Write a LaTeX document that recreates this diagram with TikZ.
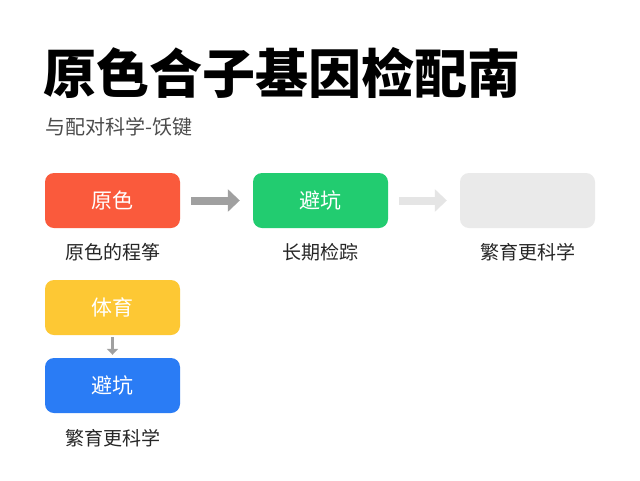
\documentclass[tikz,border=0pt]{standalone}
\usepackage{fontspec}
\newfontfamily\cjk{Noto Sans CJK SC}
\usepackage{tikz}
\usetikzlibrary{positioning,arrows.meta}
\definecolor{cred}{HTML}{FA5A3C}
\definecolor{cgreen}{HTML}{22CC70}
\definecolor{cgray}{HTML}{EAEAEA}
\definecolor{cyellow}{HTML}{FDC834}
\definecolor{cblue}{HTML}{2A7CF5}
\definecolor{carrow}{HTML}{A0A0A0}
\tikzset{
  box/.style={rounded corners=9pt, minimum width=135pt, minimum height=55pt, inner sep=0pt, text=white, font=\cjk\fontsize{21}{21}\selectfont},
  caption/.style={font=\cjk\fontsize{19}{19}\selectfont, text=black!85},
  arr/.style={-{Triangle[length=12pt,width=22pt]}, line width=8pt, draw=carrow, shorten <=11pt, shorten >=13pt}
}
\begin{document}
\begin{tikzpicture}[x=1pt,y=-1pt]
    \useasboundingbox[fill=white] (0,0) rectangle (640,480);
    \node[anchor=west, font=\cjk\bfseries\fontsize{53}{53}\selectfont] (title) at (40,73) {原色合子基因检配南};
    \node[anchor=west, font=\cjk\fontsize{20}{20}\selectfont, text=black!70] (sub) at (42,127) {与配对科学-饫键};

    \node[box, fill=cred] (red) at (112.5,200.5) {原色};
    \node[box, fill=cgreen] (green) at (320.5,200.5) {避坑};
    \node[box, fill=cgray] (gray) at (527.5,200.5) {};
    \node[box, fill=cyellow] (yellow) at (112.5,307.5) {体育};
    \node[box, fill=cblue] (blue) at (112.5,385.5) {避坑};

    \node[caption] (l1) at (112.5,252) {原色的程筝};
    \node[caption] (l2) at (320.5,252) {长期检踪};
    \node[caption] (l3) at (527.5,252) {繁育更科学};
    \node[caption] (l4) at (112.5,438) {繁育更科学};

    \draw[arr] (red) -- (green);
    \draw[arr, draw=black!10] (green) -- (gray);
    \draw[-{Triangle[length=6pt,width=11pt]}, line width=3pt, draw=carrow, shorten <=2pt, shorten >=3pt] (yellow) -- (blue);
\end{tikzpicture}
\end{document}
